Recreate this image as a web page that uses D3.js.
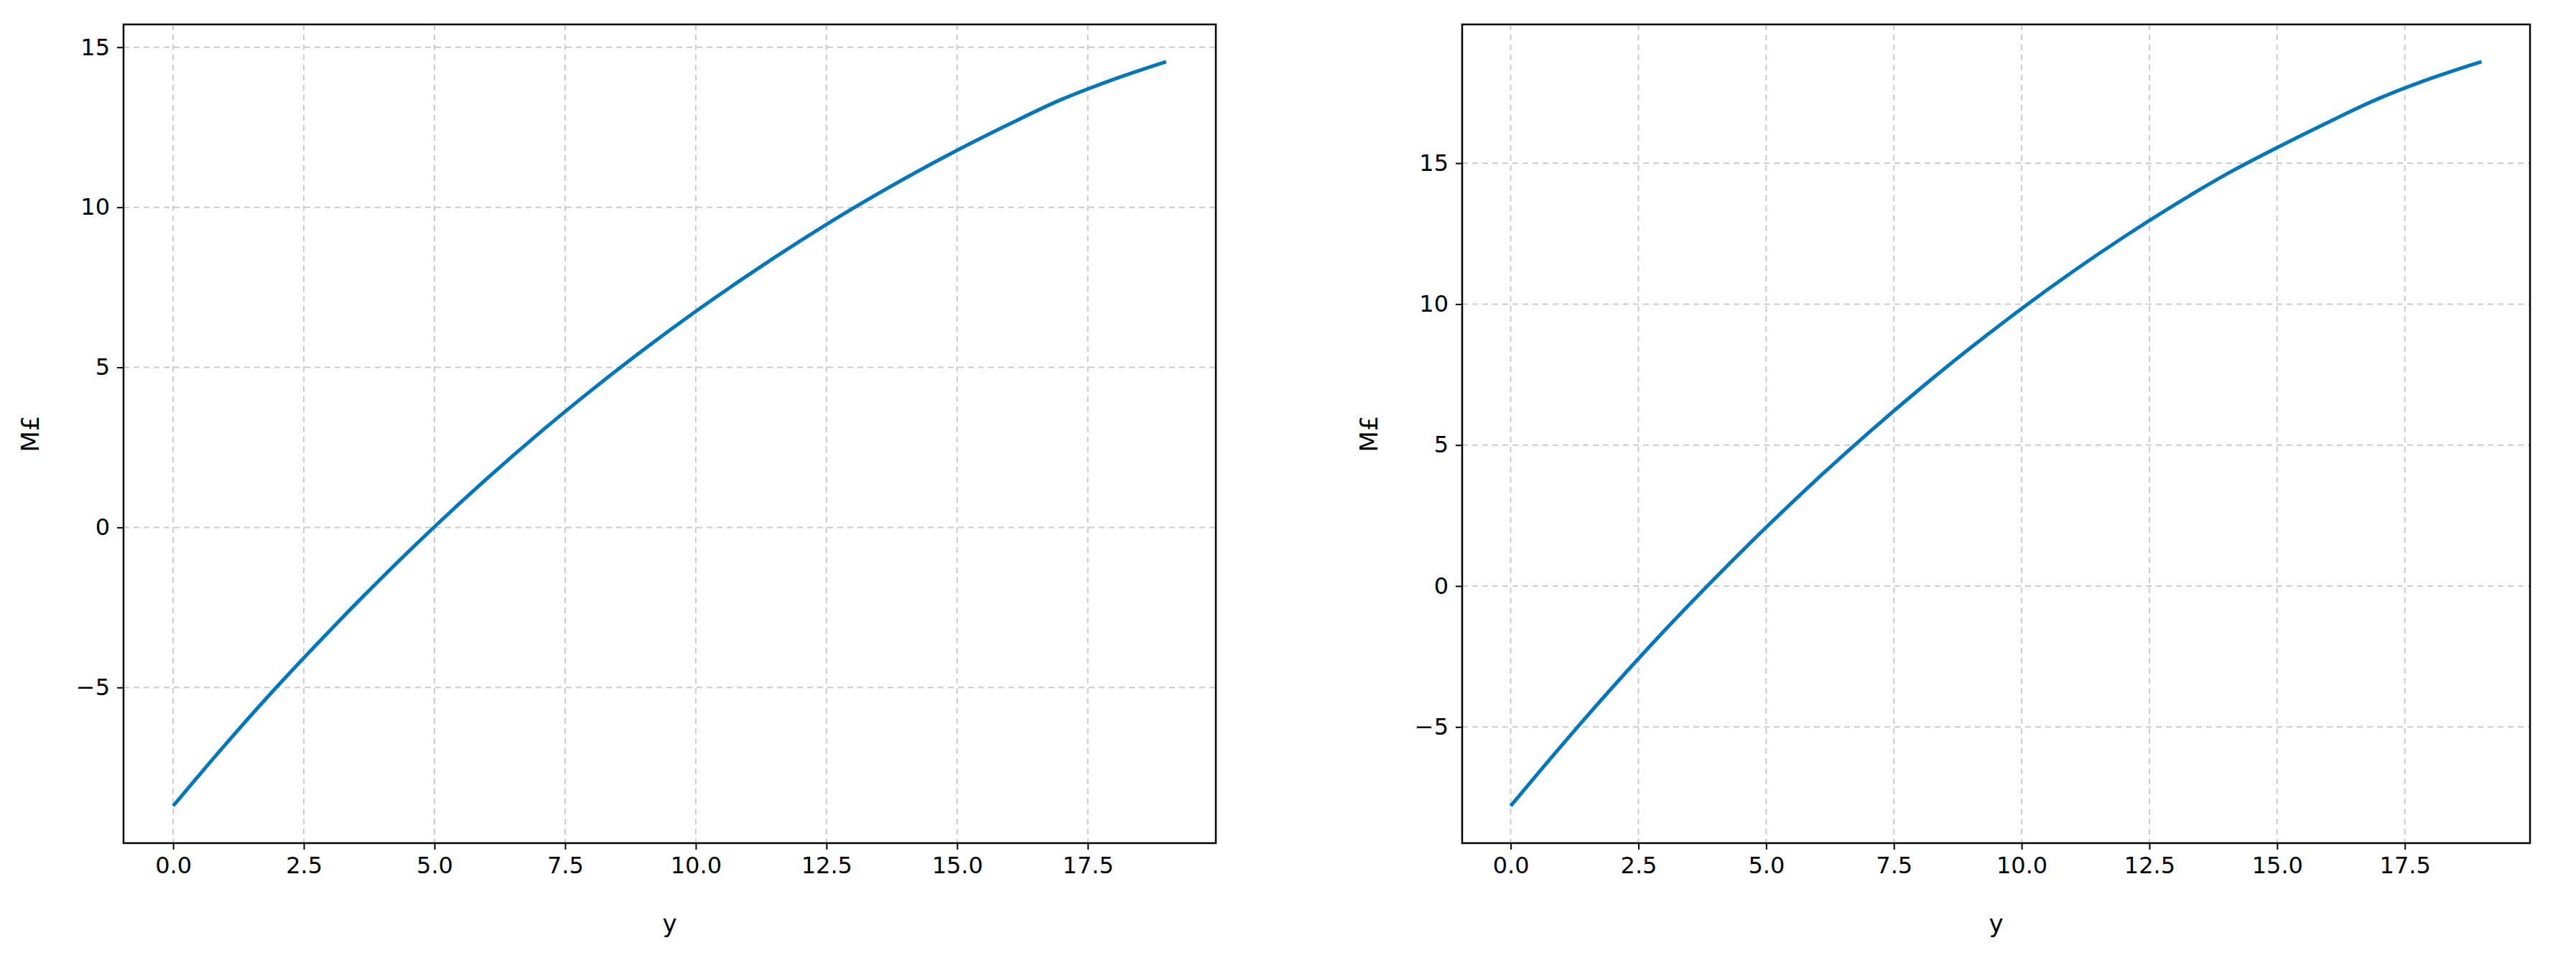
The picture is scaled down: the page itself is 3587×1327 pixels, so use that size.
<!DOCTYPE html><html><head><script src="https://cdn.jsdelivr.net/npm/d3@7"></script>
<style>body{margin:0;background:#fff}text{font-family:"DejaVu Sans",sans-serif}</style></head><body>
<script>
const years=d3.range(0,20);
const leftValues=[-8.7,-6.78,-4.95,-3.22,-1.56,0.02,1.52,2.94,4.28,5.55,6.75,7.88,8.95,9.96,10.9,11.78,12.6,13.37,14.0,14.55];
const rightValues=[-7.8,-5.65,-3.58,-1.6,0.28,2.08,3.8,5.43,6.98,8.45,9.84,11.15,12.38,13.53,14.6,15.55,16.45,17.3,18.0,18.6];
const xTicks=[0,2.5,5,7.5,10,12.5,15,17.5];
const leftYTicks=[-5,0,5,10,15];
const rightYTicks=[-5,0,5,10,15];
const xLabel="y", yLabel="M£";
const W=3587,H=1327;
const svg=d3.select("body").append("svg").attr("width",W).attr("height",H);
function panel(x0,x1,vals,yt){
  const y0=34,y1=1174;
  const span=d3.max(vals)-d3.min(vals);
  const x=d3.scaleLinear().domain([-0.95,19.95]).range([x0,x1]);
  const y=d3.scaleLinear().domain([d3.min(vals)-span*0.05,d3.max(vals)+span*0.05]).range([y1,y0]);
  const g=svg.append("g");
  g.selectAll(".gx").data(xTicks).join("line").attr("x1",d=>x(d)).attr("x2",d=>x(d)).attr("y1",y0).attr("y2",y1)
   .attr("stroke","#cccccc").attr("stroke-width",2).attr("stroke-dasharray","8,6");
  g.selectAll(".gy").data(yt).join("line").attr("y1",d=>y(d)).attr("y2",d=>y(d)).attr("x1",x0).attr("x2",x1)
   .attr("stroke","#cccccc").attr("stroke-width",2).attr("stroke-dasharray","8,6");
  const fmt=d=>d<0?"−"+Math.abs(d):String(d);
  const ax=g.append("g").attr("transform",`translate(0,${y1})`).call(d3.axisBottom(x).tickValues(xTicks).tickFormat(d3.format(".1f")).tickSize(9).tickPadding(10));
  const ay=g.append("g").attr("transform",`translate(${x0},0)`).call(d3.axisLeft(y).tickValues(yt).tickFormat(fmt).tickSize(9).tickPadding(10));
  [ax,ay].forEach(a=>{a.select(".domain").remove();a.selectAll("line").attr("stroke","#000").attr("stroke-width",2);a.selectAll("text").attr("font-size",32).attr("fill","#000");});
  g.append("path").datum(vals).attr("fill","none").attr("stroke","#0077bb").attr("stroke-width",5)
   .attr("d",d3.line().curve(d3.curveMonotoneX).x((d,i)=>x(years[i])).y(d=>y(d)));
  g.append("rect").attr("x",x0).attr("y",y0).attr("width",x1-x0).attr("height",y1-y0).attr("fill","none").attr("stroke","#000").attr("stroke-width",2.5);
  g.append("text").attr("x",(x0+x1)/2).attr("y",1298).attr("text-anchor","middle").attr("font-size",34).text(xLabel);
  g.append("text").attr("transform",`translate(${x0-118},${(y0+y1)/2}) rotate(-90)`).attr("text-anchor","middle").attr("font-size",34).text(yLabel);
}
panel(172,1693,leftValues,leftYTicks);
panel(2036,3523,rightValues,rightYTicks);
</script></body></html>
